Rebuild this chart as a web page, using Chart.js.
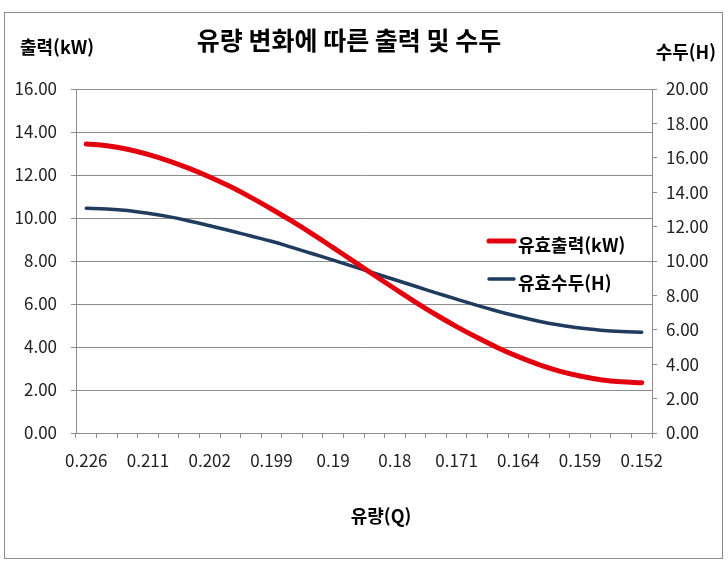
<!DOCTYPE html>
<html lang="ko">
<head>
<meta charset="utf-8">
<title>유량 변화에 따른 출력 및 수두</title>
<script src="https://cdn.jsdelivr.net/npm/chart.js@4.4.1/dist/chart.umd.min.js"></script>
<style>
  html, body { margin: 0; padding: 0; background: #fff; }
</style>
</head>
<body>
<canvas id="chart" width="728" height="582"></canvas>
<script>
// Flow points (28 of them, only every third one carries a label in the original)
const flowCategories = [
    "0.226", "", "", "0.211", "", "", "0.202", "", "", "0.199",
    "", "", "0.19", "", "", "0.18", "", "", "0.171", "",
    "", "0.164", "", "", "0.159", "", "", "0.152"
];

// 유효출력 (kW) - left axis
const powerKW = [
    13.44, 13.36, 13.20, 12.96, 12.66, 12.31, 11.91, 11.46, 10.96, 10.42,
    9.85, 9.25, 8.62, 7.98, 7.34, 6.71, 6.09, 5.50, 4.95, 4.44,
    3.97, 3.55, 3.18, 2.88, 2.65, 2.48, 2.38, 2.34
];

// 유효수두 (H) - right axis
const headH = [
    13.06, 13.02, 12.93, 12.77, 12.58, 12.33, 12.05, 11.76, 11.45, 11.15,
    10.79, 10.42, 10.05, 9.67, 9.29, 8.91, 8.53, 8.15, 7.78, 7.42,
    7.08, 6.77, 6.50, 6.28, 6.10, 5.98, 5.90, 5.86
];

const seriesNames = ["유효출력(kW)", "유효수두(H)"];
const chartTitle = "유량 변화에 따른 출력 및 수두";
const leftTitle = "출력(kW)";
const rightTitle = "수두(H)";
const xTitle = "유량(Q)";

const FONT = "'Noto Sans CJK KR', 'Noto Sans', sans-serif";
const GRID = "#8c8c8c";
const RED = "#e2000f";
const BLUE = "#1f3b5e";

// white page with the grey frame around the whole chart
const framePlugin = {
    id: "frame",
    beforeDraw(chart) {
        const ctx = chart.ctx;
        ctx.save();
        ctx.fillStyle = "#fff";
        ctx.fillRect(0, 0, chart.width, chart.height);
        ctx.strokeStyle = GRID;
        ctx.lineWidth = 1;
        ctx.strokeRect(4.5, 12.5, 718, 546);
        ctx.restore();
    }
};

// titles and the legend that sits inside the plot
const textPlugin = {
    id: "texts",
    afterDraw(chart) {
        const ctx = chart.ctx;
        ctx.save();
        ctx.fillStyle = "#000";
        ctx.textBaseline = "middle";

        ctx.font = "bold 25px " + FONT;
        ctx.textAlign = "center";
        ctx.fillText(chartTitle, 349, 40);

        ctx.font = "bold 18px " + FONT;
        ctx.textAlign = "left";
        ctx.fillText(leftTitle, 20, 47);
        ctx.textAlign = "right";
        ctx.fillText(rightTitle, 716, 52);
        ctx.textAlign = "center";
        ctx.fillText(xTitle, 381, 516);

        // legend
        ctx.textAlign = "left";
        chart.data.datasets.forEach(function (ds, i) {
            const y = 241 + i * 38;
            ctx.strokeStyle = ds.borderColor;
            ctx.lineWidth = ds.borderWidth;
            ctx.lineCap = "round";
            ctx.beginPath();
            ctx.moveTo(489, y);
            ctx.lineTo(514, y);
            ctx.stroke();
            ctx.fillStyle = "#000";
            ctx.fillText(ds.label, 518, y + 4);
        });
        ctx.restore();
    }
};

new Chart(document.getElementById("chart"), {
    type: "line",
    data: {
        labels: flowCategories,
        datasets: [
            {
                label: seriesNames[0],
                data: powerKW,
                yAxisID: "y",
                borderColor: RED,
                borderWidth: 5,
                pointRadius: 0,
                tension: 0.4,
                borderCapStyle: "round"
            },
            {
                label: seriesNames[1],
                data: headH,
                yAxisID: "y1",
                borderColor: BLUE,
                borderWidth: 3.5,
                pointRadius: 0,
                tension: 0.4,
                borderCapStyle: "round"
            }
        ]
    },
    options: {
        responsive: false,
        animation: false,
        devicePixelRatio: 1,
        layout: { padding: { top: 89, left: 0, right: 0, bottom: 0 } },
        plugins: {
            legend: { display: false },
            title: { display: false },
            tooltip: { enabled: false }
        },
        scales: {
            x: {
                offset: true,
                grid: { offset: true, drawOnChartArea: false, color: GRID, tickLength: 5 },
                border: { color: GRID },
                ticks: {
                    autoSkip: false,
                    maxRotation: 0,
                    padding: 12,
                    color: "#222",
                    font: { family: FONT, size: 17 }
                },
                afterFit(scale) { scale.height = 149; }
            },
            y: {
                position: "left",
                min: 0,
                max: 16,
                ticks: {
                    stepSize: 2,
                    padding: 14,
                    color: "#222",
                    font: { family: FONT, size: 17 },
                    callback: function (v) { return v.toFixed(2); }
                },
                grid: { color: GRID, tickLength: 5 },
                border: { color: GRID },
                afterFit(scale) { scale.width = 76; }
            },
            y1: {
                position: "right",
                min: 0,
                max: 20,
                ticks: {
                    stepSize: 2,
                    padding: 9,
                    color: "#222",
                    font: { family: FONT, size: 17 },
                    callback: function (v) { return v.toFixed(2); }
                },
                grid: { drawOnChartArea: false, color: GRID, tickLength: 5 },
                border: { color: GRID },
                afterFit(scale) { scale.width = 76; }
            }
        }
    },
    plugins: [framePlugin, textPlugin]
});
</script>
</body>
</html>
